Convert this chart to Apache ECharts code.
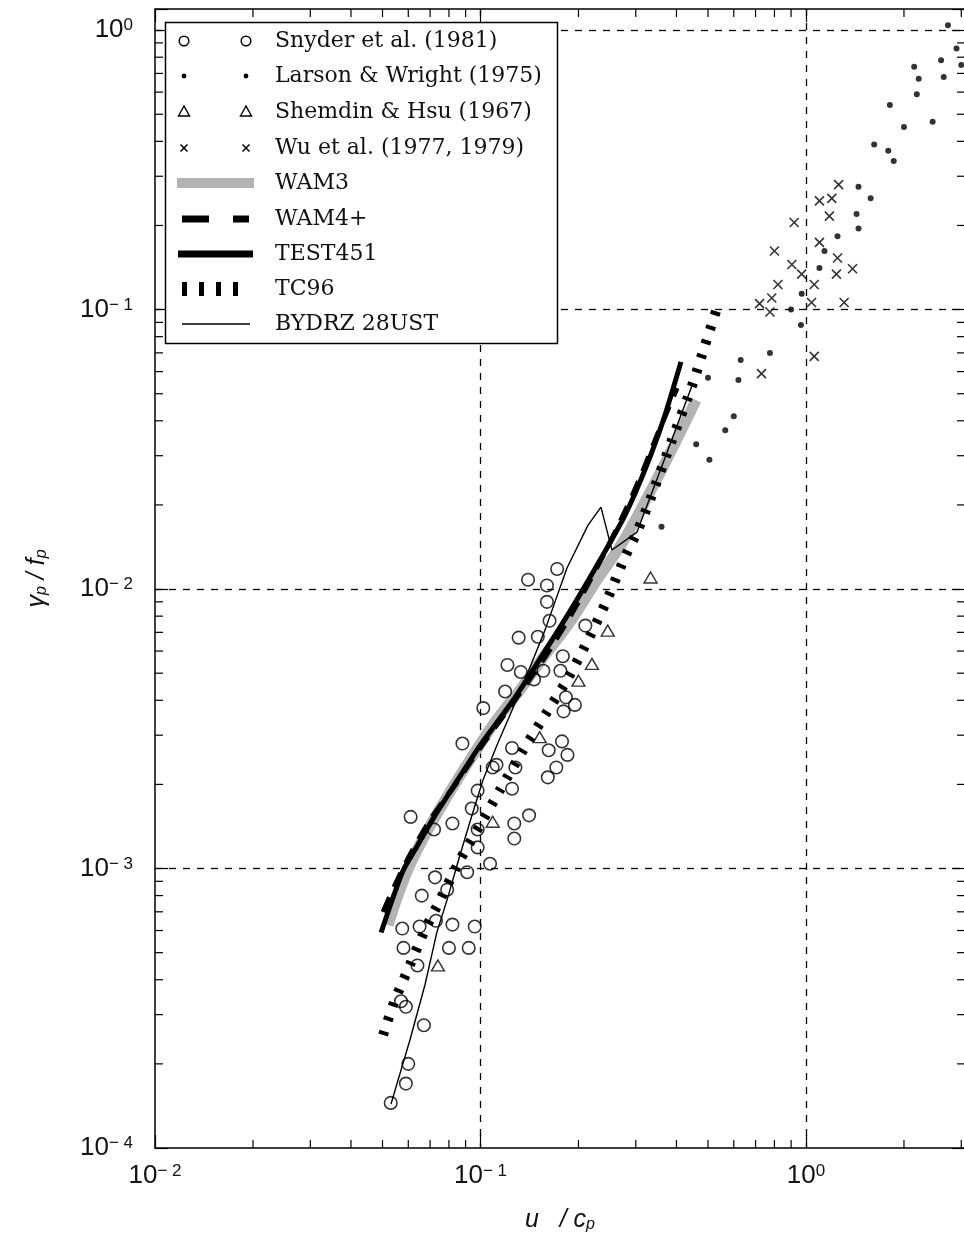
<!DOCTYPE html>
<html><head><meta charset="utf-8">
<script src="https://cdn.jsdelivr.net/npm/echarts@6/dist/echarts.min.js"></script>
<style>html,body{margin:0;padding:0;background:#fff}#c{width:964px;height:1244px}</style>
</head><body><div id="c"></div><script>
// ---------------- data ----------------
const snyder = [
 [0.053,1.45e-4],[0.059,1.7e-4],[0.06,2.0e-4],[0.067,2.75e-4],[0.059,3.2e-4],[0.057,3.35e-4],
 [0.064,4.5e-4],[0.058,5.2e-4],[0.08,5.2e-4],[0.092,5.2e-4],[0.0575,6.1e-4],[0.065,6.2e-4],
 [0.082,6.3e-4],[0.096,6.2e-4],[0.073,6.5e-4],[0.066,8.0e-4],[0.079,8.4e-4],[0.0725,9.3e-4],
 [0.091,9.7e-4],[0.107,1.04e-3],[0.098,1.19e-3],[0.127,1.28e-3],[0.098,1.38e-3],[0.082,1.45e-3],
 [0.072,1.38e-3],[0.127,1.45e-3],[0.061,1.53e-3],[0.094,1.64e-3],[0.141,1.55e-3],[0.098,1.9e-3],
 [0.125,1.93e-3],[0.128,2.3e-3],[0.109,2.3e-3],[0.161,2.12e-3],[0.171,2.3e-3],[0.185,2.55e-3],
 [0.162,2.65e-3],[0.178,2.85e-3],[0.125,2.7e-3],[0.088,2.8e-3],[0.102,3.75e-3],[0.119,4.3e-3],
 [0.183,4.1e-3],[0.195,3.85e-3],[0.18,3.65e-3],[0.146,4.75e-3],[0.121,5.35e-3],[0.133,5.05e-3],
 [0.156,5.1e-3],[0.176,5.1e-3],[0.179,5.75e-3],[0.131,6.7e-3],[0.15,6.75e-3],[0.21,7.4e-3],
 [0.163,7.7e-3],[0.16,9.0e-3],[0.16,1.03e-2],[0.14,1.08e-2],[0.172,1.18e-2],[0.112,2.35e-3]
];
const larson = [
 [2.73,1.04],[2.9,0.86],[2.6,0.78],[3.0,0.75],[2.15,0.74],[2.22,0.67],[2.65,0.68],[2.19,0.59],
 [1.81,0.54],[2.45,0.47],[2.0,0.45],[1.62,0.39],[1.79,0.37],[1.86,0.34],[1.45,0.275],[1.58,0.25],
 [1.43,0.22],[1.45,0.195],[1.25,0.183],[1.14,0.162],[1.1,0.141],[0.97,0.114],[0.9,0.1],[0.965,0.088],
 [0.775,0.07],[0.63,0.066],[0.5,0.057],[0.62,0.056],[0.6,0.0415],[0.565,0.037],[0.46,0.033],
 [0.505,0.029],[0.36,0.0167]
];
const shemdin = [[0.333,0.011],[0.246,7.1e-3],[0.22,5.4e-3],[0.2,4.7e-3],[0.152,2.95e-3],[0.109,1.47e-3],[0.074,4.5e-4]];
const wu = [
 [1.26,0.28],[1.1,0.245],[1.2,0.25],[1.18,0.216],[0.92,0.205],[1.1,0.174],[0.8,0.162],[0.905,0.145],
 [0.97,0.134],[1.25,0.153],[1.24,0.134],[1.39,0.14],[0.82,0.123],[1.06,0.123],[0.785,0.11],
 [0.72,0.105],[0.775,0.098],[1.04,0.106],[1.31,0.106],[1.06,0.068],[0.73,0.059]
];
const wam3 = [[0.052,6.28e-4],[0.0558,8.04e-4],[0.0607,1.029e-3],[0.0675,1.318e-3],[0.0795,1.832e-3],[0.0928,2.445e-3],
 [0.1108,3.343e-3],[0.1322,4.35e-3],[0.1578,5.81e-3],[0.1884,7.62e-3],[0.228,1.077e-2],[0.276,1.497e-2],[0.356,2.60e-2],[0.4594,4.745e-2]];
const wam4 = [[0.0502,6.99e-4],[0.0546,8.73e-4],[0.0607,1.118e-3],[0.070,1.491e-3],[0.0835,1.99e-3],[0.0997,2.70e-3],
 [0.1276,4.01e-3],[0.1578,5.71e-3],[0.1951,8.55e-3],[0.2412,1.356e-2],[0.2683,1.737e-2],[0.309,2.495e-2],[0.3509,3.61e-2],[0.4016,5.24e-2]];
const test451 = [[0.0495,5.9e-4],[0.0535,7.7e-4],[0.058,9.9e-4],[0.063,1.17e-3],[0.0725,1.55e-3],[0.085,2.07e-3],[0.1,2.77e-3],
 [0.126,4.0e-3],[0.152,5.6e-3],[0.188,8.3e-3],[0.233,1.27e-2],[0.278,1.84e-2],[0.32,2.67e-2],[0.364,4.0e-2],[0.413,6.5e-2]];
const tc96 = [[0.0502,2.537e-4],[0.0546,3.384e-4],[0.0607,4.515e-4],[0.0675,6.03e-4],[0.0751,7.71e-4],[0.0865,1.073e-3],
 [0.0997,1.431e-3],[0.1148,1.91e-3],[0.1341,2.611e-3],[0.16,3.63e-3],[0.1844,4.725e-3],[0.214,6.57e-3],[0.2446,9.13e-3],
 [0.2779,1.302e-2],[0.3026,1.599e-2],[0.3317,2.081e-2],[0.3876,3.413e-2],[0.4496,5.46e-2],[0.4895,7.46e-2],[0.5366,0.1037]];
const bydrz = [[0.0531,1.437e-4],[0.0607,2.435e-4],[0.0675,3.83e-4],[0.0735,5.93e-4],[0.0789,7.71e-4],[0.0865,1.118e-3],
 [0.0942,1.554e-3],[0.1018,2.073e-3],[0.1124,2.767e-3],[0.1322,4.28e-3],[0.1578,7.13e-3],[0.1844,1.189e-2],[0.214,1.694e-2],
 [0.2345,1.965e-2],[0.2535,1.379e-2],[0.3026,1.599e-2],[0.3688,2.943e-2],[0.4496,5.46e-2]];
const legendNames = ['Snyder et al. (1981)','Larson & Wright (1975)','Shemdin & Hsu (1967)','Wu et al. (1977, 1979)','WAM3','WAM4+','TEST451','TC96','BYDRZ 28UST'];
const xTickExps = [-2,-1,0];
const yTickExps = [-4,-3,-2,-1,0];
const xMinorTicks = [0.02,0.03,0.04,0.05,0.06,0.07,0.08,0.09,0.2,0.3,0.4,0.5,0.6,0.7,0.8,0.9,2,3];
const yMinorTicks = [2e-4,3e-4,4e-4,5e-4,6e-4,7e-4,8e-4,9e-4,2e-3,3e-3,4e-3,5e-3,6e-3,7e-3,8e-3,9e-3,
 0.02,0.03,0.04,0.05,0.06,0.07,0.08,0.09,0.2,0.3,0.4,0.5,0.6,0.7,0.8,0.9];
const X_MIN = 0.01, X_MAX = 3.08, Y_MIN = 1e-4, Y_MAX = 1.19;

// ---------------- helpers ----------------
const SANS = '"Liberation Sans", Arial, sans-serif';
const SERIF = '"DejaVu Serif", serif';
function powLabel(exps){
  return function(v){
    const l = Math.log10(v), e = Math.round(l);
    if (Math.abs(l-e) > 1e-6 || exps.indexOf(e) < 0) return '';
    return '{b|10}{s|' + (e < 0 ? '\u2212 ' + (-e) : e) + '}';
  };
}
const labelRich = {
  b:{fontSize:26, fontFamily:SANS, color:'#111'},
  s:{fontSize:17, fontFamily:SANS, color:'#111', verticalAlign:'top'}
};
const axisLineStyle = {color:'#000', width:1.5};
function baseAxis(extra){
  return Object.assign({
    type:'log', logBase:10,
    axisLine:{show:true, onZero:false, lineStyle:axisLineStyle},
    axisTick:{show:true, inside:true, length:13, lineStyle:{color:'#000', width:1.2}},
    minorTick:{show:false}, minorSplitLine:{show:false}
  }, extra);
}
function minorTickSeries(values, isX){
  return {
    type:'custom', coordinateSystem:'cartesian2d', silent:true, z:6, clip:false,
    data: values.map(v => isX ? [v, Y_MIN] : [X_MIN, v]),
    renderItem:function(params, api){
      const cs = params.coordSys;
      const p = api.coord([api.value(0), api.value(1)]);
      const st = {stroke:'#000', lineWidth:1.2};
      if (isX){
        return {type:'group', children:[
          {type:'line', shape:{x1:p[0], y1:cs.y+cs.height, x2:p[0], y2:cs.y+cs.height-8}, style:st},
          {type:'line', shape:{x1:p[0], y1:cs.y, x2:p[0], y2:cs.y+8}, style:st}
        ]};
      }
      return {type:'group', children:[
        {type:'line', shape:{x1:cs.x, y1:p[1], x2:cs.x+8, y2:p[1]}, style:st},
        {type:'line', shape:{x1:cs.x+cs.width, y1:p[1], x2:cs.x+cs.width-8, y2:p[1]}, style:st}
      ]};
    }
  };
}
function lineSeries(name, data, ls, z, smooth){
  return {name, type:'line', data, showSymbol:false, symbol:'none', smooth:smooth, z,
    lineStyle:ls, emphasis:{disabled:true}, silent:true, animation:false};
}

// ---------------- legend (graphic) ----------------
const rowY = [41,76,112,148,183,219,254,289,324];
const g = [];
g.push({type:'rect', shape:{x:165.5, y:22.5, width:392, height:321}, style:{fill:'#fff', stroke:'#000', lineWidth:1.5}, z:100});
legendNames.forEach((n,i)=>{
  g.push({type:'text', x:275, y:rowY[i], z:101, style:{text:n, font:'22px ' + SERIF, fill:'#111', verticalAlign:'middle', align:'left'}});
});
[184,246].forEach(cx=>{
  g.push({type:'circle', z:101, shape:{cx, cy:rowY[0], r:4.8}, style:{fill:'none', stroke:'#000', lineWidth:1.5}});
  g.push({type:'circle', z:101, shape:{cx, cy:rowY[1], r:2.4}, style:{fill:'#000'}});
  g.push({type:'polygon', z:101, shape:{points:[[cx,rowY[2]-6],[cx-5.5,rowY[2]+4],[cx+5.5,rowY[2]+4]]}, style:{fill:'none', stroke:'#000', lineWidth:1.4}});
  g.push({type:'line', z:101, shape:{x1:cx-3.5, y1:rowY[3]-3.5, x2:cx+3.5, y2:rowY[3]+3.5}, style:{stroke:'#000', lineWidth:1.5}});
  g.push({type:'line', z:101, shape:{x1:cx-3.5, y1:rowY[3]+3.5, x2:cx+3.5, y2:rowY[3]-3.5}, style:{stroke:'#000', lineWidth:1.5}});
});
g.push({type:'rect', z:101, shape:{x:177, y:rowY[4]-5, width:77, height:10}, style:{fill:'#b3b3b3'}});
g.push({type:'rect', z:101, shape:{x:182, y:rowY[5]-3.5, width:27, height:7}, style:{fill:'#000'}});
g.push({type:'rect', z:101, shape:{x:233, y:rowY[5]-3.5, width:16, height:7}, style:{fill:'#000'}});
g.push({type:'rect', z:101, shape:{x:178, y:rowY[6]-3.5, width:75, height:7}, style:{fill:'#000'}});
[182,199,216,233].forEach(x=>g.push({type:'rect', z:101, shape:{x, y:rowY[7]-7, width:5, height:14}, style:{fill:'#000'}}));
g.push({type:'line', z:101, shape:{x1:182, y1:rowY[8], x2:250, y2:rowY[8]}, style:{stroke:'#000', lineWidth:1.3}});

// ---------------- option ----------------
const chart = echarts.init(document.getElementById('c'), null, {renderer:'canvas'});
const option = {
  animation:false,
  backgroundColor:'#fff',
  grid:{left:155, right:-1, top:9, bottom:96, containLabel:false, outerBoundsMode:'none'},
  xAxis:[
    baseAxis({min:X_MIN, max:X_MAX, position:'bottom',
      axisLabel:{formatter:powLabel(xTickExps), rich:labelRich, margin:15, showMinLabel:true, showMaxLabel:true, hideOverlap:false},
      splitLine:{show:true, showMinLine:false, showMaxLine:false, lineStyle:{color:'#000', type:[7,7], width:1.3}},
      name:'{i|u}{n|   / }{i|c}{p|p}', nameLocation:'middle', nameGap:60,
      nameTextStyle:{rich:{
        i:{fontSize:25, fontStyle:'italic', fontFamily:SANS, color:'#111'},
        n:{fontSize:25, fontStyle:'italic', fontFamily:SANS, color:'#111'},
        p:{fontSize:16, fontStyle:'italic', fontFamily:SANS, color:'#111', verticalAlign:'bottom'}
      }}
    }),
    baseAxis({min:X_MIN, max:X_MAX, position:'top', axisLabel:{show:false}, splitLine:{show:false}})
  ],
  yAxis:[
    baseAxis({min:Y_MIN, max:Y_MAX, position:'left',
      axisLabel:{formatter:powLabel(yTickExps), rich:labelRich, margin:22, showMinLabel:true, showMaxLabel:true, hideOverlap:false},
      splitLine:{show:true, showMinLine:false, showMaxLine:false, lineStyle:{color:'#000', type:[7,7], width:1.3}},
      name:'{i|\u03b3}{p|p}{n| / f}{p|p}', nameLocation:'middle', nameGap:105, nameRotate:90,
      nameTextStyle:{rich:{
        i:{fontSize:25, fontStyle:'italic', fontFamily:SANS, color:'#111'},
        n:{fontSize:25, fontStyle:'italic', fontFamily:SANS, color:'#111'},
        p:{fontSize:16, fontStyle:'italic', fontFamily:SANS, color:'#111', verticalAlign:'bottom'}
      }}
    }),
    baseAxis({min:Y_MIN, max:Y_MAX, position:'right', axisLabel:{show:false}, splitLine:{show:false}})
  ],
  graphic:g,
  series:[
    lineSeries('WAM3', wam3, {color:'#b3b3b3', width:11, cap:'butt'}, 2, 0.25),
    lineSeries('BYDRZ 28UST', bydrz, {color:'#000', width:1.4}, 3, false),
    lineSeries('TC96', tc96, {color:'#000', width:10, type:[4,11], cap:'butt'}, 3, 0.25),
    lineSeries('WAM4+', wam4, {color:'#000', width:5, type:[16,11], cap:'butt'}, 4, 0.25),
    lineSeries('TEST451', test451, {color:'#000', width:5}, 4, 0.25),
    {name:'Snyder et al. (1981)', type:'scatter', data:snyder, symbol:'circle', symbolSize:12.5, z:5, silent:true,
      itemStyle:{color:'rgba(0,0,0,0)', borderColor:'#000', borderWidth:1.6}, emphasis:{disabled:true}},
    {name:'Larson & Wright (1975)', type:'scatter', data:larson, symbol:'circle', symbolSize:6, z:5, silent:true,
      itemStyle:{color:'#000'}, emphasis:{disabled:true}},
    {name:'Shemdin & Hsu (1967)', type:'scatter', data:shemdin, symbol:'triangle', symbolSize:[13,11], z:5, silent:true,
      itemStyle:{color:'rgba(0,0,0,0)', borderColor:'#000', borderWidth:1.4}, emphasis:{disabled:true}},
    {name:'Wu et al. (1977, 1979)', type:'scatter', data:wu, symbol:'path://M0,0L10,10M10,0L0,10', symbolSize:9, z:5, silent:true,
      itemStyle:{color:'rgba(0,0,0,0)', borderColor:'#000', borderWidth:1.6}, emphasis:{disabled:true}},
    minorTickSeries(xMinorTicks, true),
    minorTickSeries(yMinorTicks, false)
  ]
};
chart.setOption(option);
</script></body></html>
